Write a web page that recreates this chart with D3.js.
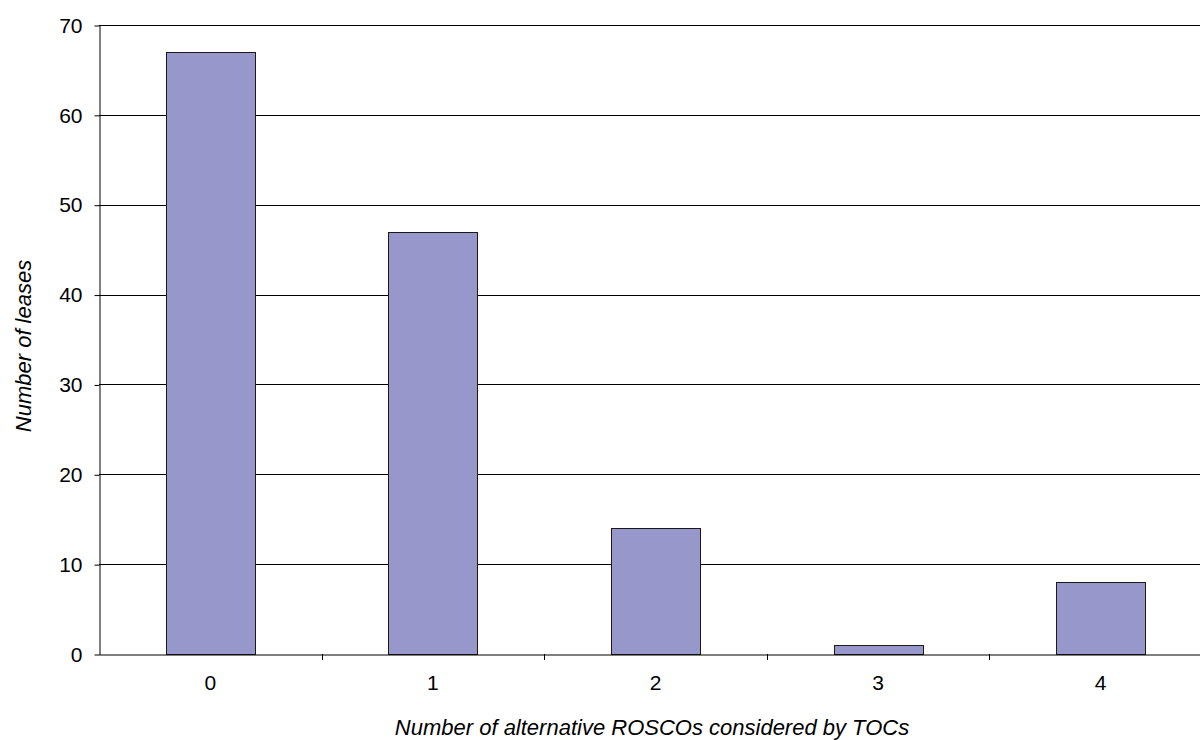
<!DOCTYPE html>
<html>
<head>
<meta charset="utf-8">
<script src="https://cdn.jsdelivr.net/npm/d3@7"></script>
<style>
  html, body { margin: 0; padding: 0; background: #ffffff; overflow: hidden; }
  svg { display: block; font-family: "Liberation Sans", Arial, sans-serif; }
</style>
</head>
<body>
<svg id="chart" width="1200" height="740"></svg>
<script>
// Leases by number of alternative ROSCOs considered
const categories = ["0", "1", "2", "3", "4"];
const leases = [67, 47, 14, 1, 8];
const yTicks = [0, 10, 20, 30, 40, 50, 60, 70];

const svg = d3.select("#chart");
const plotLeft = 99, plotRight = 1212, plotTop = 25, plotBottom = 654;
const tickFont = 21, titleFont = 22;

const x = d3.scaleBand().domain(categories).range([plotLeft, plotRight]).paddingInner(0.6).paddingOuter(0.3);
const xOuter = d3.scaleBand().domain(categories).range([plotLeft, plotRight]);
const y = d3.scaleLinear().domain([0, 70]).range([plotBottom, plotTop]);

// horizontal gridlines
svg.append("g")
  .selectAll("line")
  .data(yTicks.filter(d => d > 0))
  .join("line")
  .attr("x1", plotLeft).attr("x2", plotRight)
  .attr("y1", d => Math.round(y(d)) + 0.5).attr("y2", d => Math.round(y(d)) + 0.5)
  .attr("stroke", "#000").attr("stroke-width", 1);

// bars
svg.append("g")
  .selectAll("rect")
  .data(leases)
  .join("rect")
  .attr("x", (d, i) => Math.round(x(categories[i])) + 0.5)
  .attr("y", d => Math.round(y(d)) + 0.5)
  .attr("width", Math.round(x.bandwidth()))
  .attr("height", d => Math.round(y(0)) - Math.round(y(d)))
  .attr("fill", "#9797CB")
  .attr("stroke", "#1a1a1a")
  .attr("stroke-width", 1);

// y axis
const yAxis = svg.append("g")
  .attr("transform", `translate(${plotLeft + 0.5},0.5)`)
  .call(d3.axisLeft(y).tickValues(yTicks).tickSize(5).tickSizeOuter(0).tickPadding(12));
yAxis.attr("font-size", tickFont).attr("font-family", "Liberation Sans, Arial, sans-serif");
yAxis.select(".domain").attr("stroke", "#000");
yAxis.selectAll(".tick line").attr("stroke", "#000");
yAxis.selectAll("text").attr("fill", "#000");

// x axis
const xAxis = svg.append("g")
  .attr("transform", `translate(0,${Math.round(plotBottom) + 0.5})`)
  .call(d3.axisBottom(xOuter).tickSize(0).tickSizeOuter(0).tickPadding(21));
xAxis.attr("font-size", tickFont).attr("font-family", "Liberation Sans, Arial, sans-serif");
xAxis.select(".domain").attr("stroke", "#000");
xAxis.selectAll("text").attr("fill", "#000");

// category separator ticks
svg.append("g")
  .selectAll("line")
  .data(categories.slice(1))
  .join("line")
  .attr("x1", d => Math.round(xOuter(d)) + 0.5).attr("x2", d => Math.round(xOuter(d)) + 0.5)
  .attr("y1", Math.round(plotBottom)).attr("y2", Math.round(plotBottom) + 6)
  .attr("stroke", "#000");

// axis titles
svg.append("text")
  .attr("x", 652).attr("y", 735)
  .attr("text-anchor", "middle")
  .attr("font-size", titleFont).attr("font-style", "italic")
  .text("Number of alternative ROSCOs considered by TOCs");

svg.append("text")
  .attr("transform", "translate(31,346) rotate(-90)")
  .attr("text-anchor", "middle")
  .attr("font-size", titleFont).attr("font-style", "italic")
  .text("Number of leases");
</script>
</body>
</html>
